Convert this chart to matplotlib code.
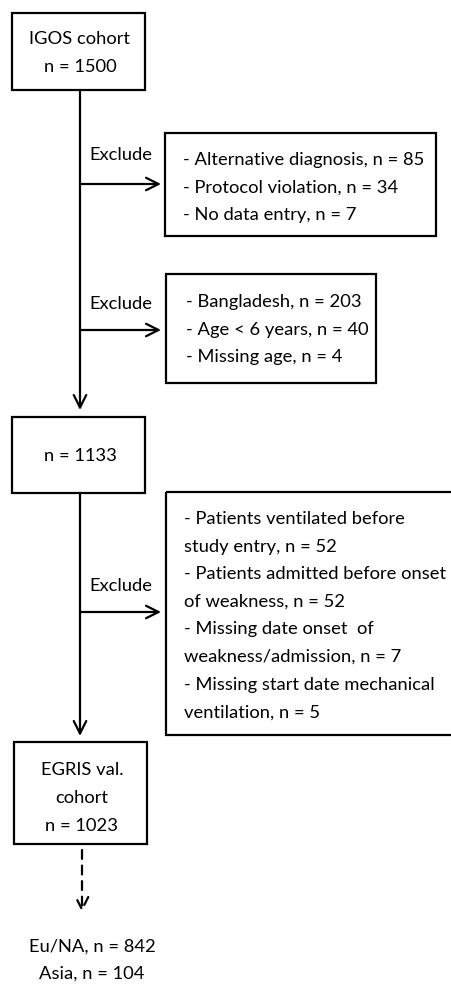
import matplotlib
matplotlib.use("Agg")
import matplotlib.pyplot as plt
from matplotlib.patches import Rectangle

plt.rcParams['font.family'] = ['Lato', 'DejaVu Sans']

# ---- content ----
main_boxes = [
    ["IGOS cohort", "n = 1500"],
    ["n = 1133"],
    ["EGRIS val.", "cohort", "n = 1023"],
]
exclusion_boxes = [
    ["- Alternative diagnosis, n = 85",
     "- Protocol violation, n = 34",
     "- No data entry, n = 7"],
    ["- Bangladesh, n = 203",
     "- Age < 6 years, n = 40",
     "- Missing age, n = 4"],
    ["- Patients ventilated before",
     "study entry, n = 52",
     "- Patients admitted before onset",
     "of weakness, n = 52",
     "- Missing date onset  of",
     "weakness/admission, n = 7",
     "- Missing start date mechanical",
     "ventilation, n = 5"],
]
exclude_label = "Exclude"
final_lines = ["Eu/NA, n = 842", "Asia, n = 104"]

# ---- layout (pixel coords) ----
W, H = 452, 984
fig = plt.figure(figsize=(W/100, H/100), dpi=100)
ax = fig.add_axes([0, 0, 1, 1])
ax.set_xlim(0, W)
ax.set_ylim(H, 0)
ax.axis('off')

FS = 13.2
LS = 27.6
LW = 1.6

def box(x0, y0, x1, y1):
    ax.add_patch(Rectangle((x0, y0), x1-x0, y1-y0, fill=False,
                           edgecolor='black', linewidth=LW))

def lines_center(xc, ys, texts):
    for y, t in zip(ys, texts):
        ax.text(xc, y, t, ha='center', va='center', fontsize=FS)

def lines_left(x, y0, texts):
    for i, t in enumerate(texts):
        ax.text(x, y0 + i*LS, t, ha='left', va='center', fontsize=FS)

def arrow(x0, y0, x1, y1, ls='-'):
    ax.annotate('', xy=(x1, y1), xytext=(x0, y0),
                arrowprops=dict(arrowstyle='->,head_length=0.9,head_width=0.45',
                                lw=LW, color='black', linestyle=ls,
                                shrinkA=0, shrinkB=0))

# main boxes
mb = [(12, 13, 145, 90), (12, 417, 145, 493), (14, 742, 147, 844)]
for (x0, y0, x1, y1) in mb:
    box(x0, y0, x1, y1)
lines_center(80, [39, 67], main_boxes[0])
lines_center(80, [456], main_boxes[1])
lines_center(82, [770, 798, 826], main_boxes[2])

# exclusion boxes
eb = [(165, 133, 436, 236), (166, 274, 376, 383), (166, 492, 460, 735)]
for (x0, y0, x1, y1) in eb:
    box(x0, y0, x1, y1)
lines_left(183, 160, exclusion_boxes[0])
lines_left(186, 302, exclusion_boxes[1])
lines_left(184, 519, exclusion_boxes[2])

# vertical flow
arrow(80, 90, 80, 410)
arrow(80, 493, 80, 736)
arrow(82, 850, 82, 912, ls=(0, (4, 3)))

# side arrows
for ya, yl in [(184, 155), (330, 304), (612, 586)]:
    arrow(80, ya, 161, ya)
    ax.text(89, yl, exclude_label, ha='left', va='center', fontsize=FS)

# final text
lines_center(92, [947, 974], final_lines)

fig.savefig("out.png", dpi=100)
